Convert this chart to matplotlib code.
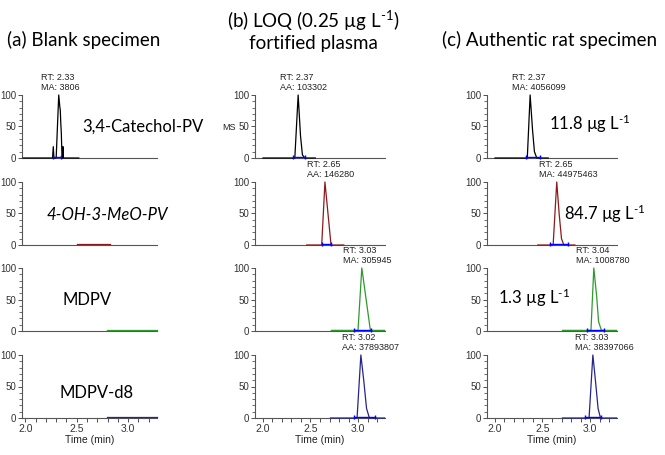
import numpy as np
import matplotlib.pyplot as plt
from matplotlib.ticker import MultipleLocator

plt.rcParams['font.family'] = ['Liberation Sans', 'DejaVu Sans']
plt.rcParams['mathtext.fontset'] = 'custom'
plt.rcParams['mathtext.rm'] = 'Lato'
plt.rcParams['mathtext.it'] = 'Lato:italic'

# Chromatogram traces (time in min, relative abundance %)
# column a: blank specimen
a1_t = [1.98, 2.265, 2.272, 2.278, 2.30, 2.325, 2.335, 2.34, 2.345, 2.35, 2.357, 2.362, 2.366, 2.37, 2.52]
a1_y = [0, 0, 18, 0, 0, 100, 82, 76, 55, 40, 0, 0, 18, 0, 0]
a2_t = [2.50, 2.82]
a2_y = [1.5, 1.5]
a3_t = [2.79, 3.28]
a3_y = [1, 1]
a4_t = [2.79, 3.28]
a4_y = [1, 1]
# column b: LOQ fortified plasma
b1_t = [2.0, 2.335, 2.37, 2.395, 2.415, 2.44, 2.55]
b1_y = [0, 0, 100, 35, 5, 0, 0]
b2_t = [2.46, 2.618, 2.652, 2.716, 2.85]
b2_y = [0, 0, 100, 0, 0]
b3_t = [2.72, 3.0, 3.04, 3.13, 3.28]
b3_y = [1, 1, 100, 1, 1]
b4_t = [2.71, 2.99, 3.03, 3.06, 3.09, 3.12, 3.28]
b4_y = [0, 0, 100, 60, 15, 0, 0]
# column c: authentic rat specimen
c1_t = [2.0, 2.34, 2.37, 2.395, 2.415, 2.44, 2.56]
c1_y = [0, 0, 100, 45, 10, 0, 0]
c2_t = [2.45, 2.612, 2.65, 2.675, 2.70, 2.725, 2.84]
c2_y = [0, 0, 100, 50, 10, 0, 0]
c3_t = [2.71, 3.01, 3.04, 3.07, 3.09, 3.12, 3.28]
c3_y = [1, 1, 100, 55, 15, 1, 1]
c4_t = [2.71, 2.99, 3.03, 3.06, 3.085, 3.11, 3.28]
c4_y = [0, 0, 100, 55, 15, 0, 0]

traces = [[(a1_t, a1_y), (a2_t, a2_y), (a3_t, a3_y), (a4_t, a4_y)],
          [(b1_t, b1_y), (b2_t, b2_y), (b3_t, b3_y), (b4_t, b4_y)],
          [(c1_t, c1_y), (c2_t, c2_y), (c3_t, c3_y), (c4_t, c4_y)]]

# integration baselines (start, end) or None
integ = [[(2.27, 2.35), None, None, None],
         [(2.32, 2.44), (2.62, 2.72), (2.96, 3.14), (2.96, 3.18)],
         [(2.33, 2.47), (2.58, 2.77), (2.97, 3.15), (2.95, 3.12)]]

peak_rt = [[2.33, None, None, None],
           [2.37, 2.65, 3.03, 3.02],
           [2.37, 2.65, 3.04, 3.03]]
peak_labels = [["RT: 2.33\nMA: 3806", None, None, None],
               ["RT: 2.37\nAA: 103302", "RT: 2.65\nAA: 146280",
                "RT: 3.03\nMA: 305945", "RT: 3.02\nAA: 37893807"],
               ["RT: 2.37\nMA: 4056099", "RT: 2.65\nMA: 44975463",
                "RT: 3.04\nMA: 1008780", "RT: 3.03\nMA: 38397066"]]

row_colors = ['black', '#8b1a1a', '#2e9a2e', '#25258a']
compounds = ["3,4-Catechol-PV", "4-OH-3-MeO-PV", "MDPV", "MDPV-d8"]
concs = [r"11.8 µg L$^{\text{-1}}$", r"84.7 µg L$^{\text{-1}}$", r"1.3 µg L$^{\text{-1}}$"]

W, H = 665, 455
fig = plt.figure(figsize=(W / 100, H / 100), dpi=100)

col_left = [22, 255, 487]
col_width = [135, 130, 130]
col_xlim = [(1.968, 3.28), (1.916, 3.284), (1.916, 3.284)]
row_zero = [158, 245, 331, 418]
row_h = 63

for c in range(3):
    for r in range(4):
        ax = fig.add_axes([col_left[c] / W, 1 - row_zero[r] / H,
                           col_width[c] / W, row_h / H])
        ax.set_xlim(*col_xlim[c])
        ax.set_ylim(0, 100)
        for s in ['top', 'right']:
            ax.spines[s].set_visible(False)
        for s in ['left', 'bottom']:
            ax.spines[s].set_color('#555555')
            ax.spines[s].set_linewidth(0.8)
        ax.set_yticks([0, 50, 100])
        ax.yaxis.set_minor_locator(MultipleLocator(10))
        ax.tick_params(axis='y', which='major', length=3, width=0.6,
                       labelsize=7, pad=1, colors='#333333')
        ax.tick_params(axis='y', which='minor', length=2, width=0.6, colors='#555555')
        if r == 3:
            ax.set_xticks([2.0, 2.5, 3.0])
            ax.set_xticklabels(['2.0', '2.5', '3.0'])
            ax.xaxis.set_minor_locator(MultipleLocator(0.1))
            ax.tick_params(axis='x', which='both', length=3, width=0.6,
                           labelsize=7.5, pad=1, colors='#333333')
            ax.set_xlabel("Time (min)", fontsize=7.5, labelpad=1, color='#222222')
        else:
            ax.tick_params(axis='x', which='both', bottom=False, labelbottom=False)

        t, y = traces[c][r]
        ax.plot(t, y, color=row_colors[r], lw=0.9, clip_on=False, zorder=3)
        if integ[c][r] is not None:
            s, e = integ[c][r]
            ax.plot([s, e], [1, 1], color='blue', lw=1.0, marker='|',
                    markersize=3, clip_on=False, zorder=4)
        if peak_labels[c][r] is not None:
            ax.annotate(peak_labels[c][r], xy=(peak_rt[c][r], 100),
                        xytext=(-13, 2), textcoords='offset points',
                        ha='left', va='bottom', fontsize=6.5,
                        color='#222222', linespacing=1.15,
                        annotation_clip=False)


def ftext(x, y, s, **kw):
    fig.text(x / W, 1 - y / H, s, **kw)


title_kw = dict(family=['Lato', 'DejaVu Sans'], fontsize=13.5, ha='center', va='center')
ftext(84, 40, "(a) Blank specimen", **title_kw)
ftext(313, 21, r"(b) LOQ (0.25 µg L$^{\text{-1}}$)", **title_kw)
ftext(313, 43, "fortified plasma", **title_kw)
ftext(550, 40, "(c) Authentic rat specimen", **title_kw)

lab_kw = dict(family=['Lato', 'DejaVu Sans'], fontsize=12, ha='left', va='center')
ftext(82, 127, compounds[0], **lab_kw)
ftext(47, 215, compounds[1], style='italic', **lab_kw)
ftext(63, 300, compounds[2], **lab_kw)
ftext(59, 393, compounds[3], **lab_kw)

ftext(549, 124, concs[0], **lab_kw)
ftext(564, 214, concs[1], **lab_kw)
ftext(498, 298, concs[2], **lab_kw)

ftext(236, 127, "MS", fontsize=6.5, ha='right', va='center', color='#222222')

fig.savefig("out.png", dpi=100)
